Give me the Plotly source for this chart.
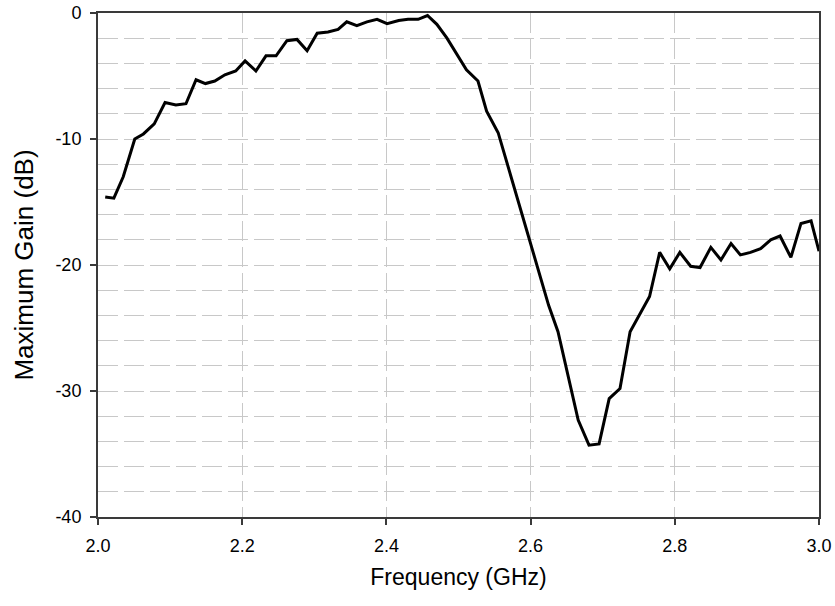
import plotly.graph_objects as go

freq_ghz = [2.010, 2.022, 2.035, 2.051, 2.063, 2.078, 2.093, 2.108, 2.122, 2.136,
            2.149, 2.162, 2.176, 2.191, 2.204, 2.219, 2.233, 2.247, 2.262, 2.276,
            2.290, 2.304, 2.319, 2.333, 2.345, 2.359, 2.373, 2.387, 2.401, 2.417,
            2.430, 2.444, 2.457, 2.470, 2.484, 2.498, 2.511, 2.527, 2.539, 2.555,
            2.569, 2.583, 2.597, 2.611, 2.625, 2.638, 2.652, 2.666, 2.681, 2.695,
            2.709, 2.724, 2.738, 2.752, 2.765, 2.779, 2.793, 2.807, 2.822, 2.835,
            2.850, 2.864, 2.878, 2.891, 2.905, 2.919, 2.933, 2.946, 2.961, 2.975,
            2.989, 3.000]
gain_db = [-14.6, -14.7, -13.0, -10.0, -9.6, -8.8, -7.1, -7.3, -7.2, -5.3,
           -5.6, -5.4, -4.9, -4.6, -3.8, -4.6, -3.4, -3.4, -2.2, -2.1,
           -3.0, -1.6, -1.5, -1.3, -0.7, -1.0, -0.7, -0.5, -0.85, -0.6,
           -0.5, -0.5, -0.2, -0.9, -2.0, -3.3, -4.5, -5.4, -7.8, -9.5,
           -12.2, -15.0, -17.8, -20.5, -23.2, -25.3, -28.8, -32.3, -34.3, -34.2,
           -30.6, -29.8, -25.3, -23.9, -22.5, -19.0, -20.3, -19.0, -20.1, -20.2,
           -18.6, -19.6, -18.3, -19.2, -19.0, -18.7, -18.0, -17.7, -19.4, -16.7,
           -16.5, -18.9]

x_ticks = [2.0, 2.2, 2.4, 2.6, 2.8, 3.0]
x_ticklabels = ["2.0", "2.2", "2.4", "2.6", "2.8", "3.0"]
y_ticks = [0, -10, -20, -30, -40]
y_ticklabels = ["0", "-10", "-20", "-30", "-40"]

fig = go.Figure()
fig.add_trace(go.Scatter(x=freq_ghz, y=gain_db, mode="lines",
                         line=dict(color="black", width=3), showlegend=False))

axis_color = "#3a3a3a"
grid_color = "#c8c8c8"
grid_dash = "20px,6px"
font = dict(family="Liberation Sans, Arial, sans-serif", size=18, color="black")

fig.update_layout(
    width=835, height=606,
    margin=dict(l=98, r=16, t=13, b=89),
    paper_bgcolor="white", plot_bgcolor="white",
    font=font,
    xaxis=dict(
        range=[2.0, 3.0], tickvals=x_ticks, ticktext=x_ticklabels,
        ticks="outside", ticklen=6, tickwidth=1.5, tickcolor=axis_color,
        showline=True, linecolor=axis_color, linewidth=2, mirror=True,
        showgrid=True, gridcolor=grid_color, griddash=grid_dash, gridwidth=1.2,
        zeroline=False, ticklabelstandoff=5, automargin=False,
        title=dict(text="Frequency (GHz)", standoff=14, font=dict(size=23)),
        tickfont=dict(size=18),
    ),
    yaxis=dict(
        range=[-40, 0], tickvals=y_ticks, ticktext=y_ticklabels,
        ticks="outside", ticklen=6, tickwidth=1.5, tickcolor=axis_color,
        showline=True, linecolor=axis_color, linewidth=2, mirror=True,
        showgrid=False, zeroline=False, ticklabelstandoff=5, automargin=False,
        minor=dict(dtick=2, showgrid=True, gridcolor=grid_color,
                   griddash=grid_dash, gridwidth=1.2, ticks=""),
        title=dict(text="Maximum Gain (dB)", standoff=14, font=dict(size=26)),
        tickfont=dict(size=18),
    ),
)

fig.write_html("out.html")
